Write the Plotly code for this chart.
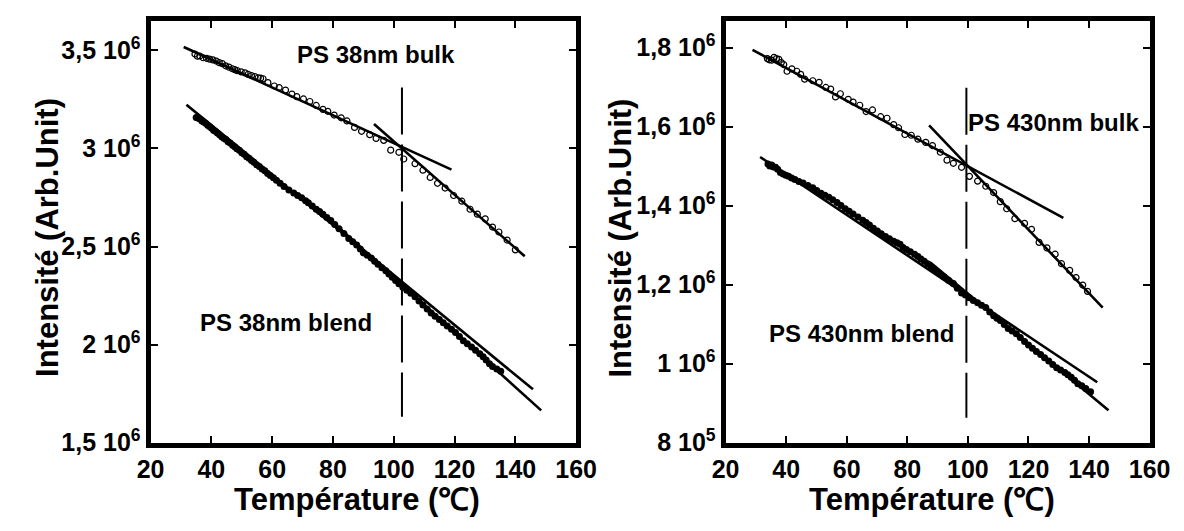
import plotly.graph_objects as go

# ---------------- Left panel : PS 38nm ----------------
bulk38_T = [34.6, 35.4, 36.2, 37.3, 38.4, 39.4, 40.5, 41.6, 42.6, 43.6, 44.7, 45.8, 46.9, 47.7, 48.5,
            49.8, 51.1, 52.1, 53.2, 54.3, 55.4, 56.2, 57.0, 58.6, 60.7, 62.3, 64.4, 66.5, 68.1, 70.3,
            72.4, 74.5, 76.7, 78.3, 80.4, 82.7, 84.6, 87.1, 89.4, 92.1, 94.2, 96.7, 99.0, 101.7,
            103.3, 107.0, 109.6, 112.0, 114.4, 116.9, 119.7, 122.4, 125.1, 127.5, 130.1, 132.5,
            134.6, 137.3, 140.0]
bulk38_I = [3.481, 3.470, 3.471, 3.462, 3.459, 3.455, 3.451, 3.445, 3.437, 3.432, 3.421, 3.414, 3.406,
            3.401, 3.396, 3.390, 3.385, 3.377, 3.371, 3.366, 3.360, 3.358, 3.355, 3.335, 3.318,
            3.310, 3.297, 3.277, 3.264, 3.252, 3.239, 3.219, 3.199, 3.189, 3.170, 3.156, 3.140,
            3.107, 3.087, 3.070, 3.051, 3.041, 2.991, 2.980, 2.946, 2.922, 2.889, 2.852, 2.822,
            2.798, 2.760, 2.731, 2.690, 2.665, 2.641, 2.599, 2.574, 2.533, 2.483]

blend38_T = [35.0, 35.6, 36.2, 36.9, 37.5, 38.1, 38.8, 39.4, 40.0, 40.7, 41.3, 42.0, 42.7, 43.4, 44.1,
             44.8, 45.5, 46.2, 47.0, 47.7, 48.4, 49.2, 50.0, 50.8, 51.6, 52.4, 53.2, 54.0, 54.9,
             55.8, 56.7, 57.6, 58.5, 59.4, 60.4, 61.4, 62.6, 63.9, 65.5, 67.1, 68.4, 69.7, 71.0,
             71.9, 73.2, 74.5, 75.6, 76.7, 78.0, 79.3, 80.6, 82.0, 83.6, 85.2, 86.5, 87.8, 89.0,
             90.0, 91.3, 92.6, 93.7, 94.8, 96.1, 97.4, 98.4, 99.5, 100.6, 101.7, 103.0, 104.3,
             105.6, 107.0, 108.3, 109.6, 111.0, 112.3, 113.6, 115.0, 116.3, 117.6, 119.0, 120.3,
             121.6, 122.9, 124.2, 125.6, 126.9, 128.3, 129.4, 130.4, 131.5, 132.5, 133.9, 135.2]
blend38_I = [3.158, 3.155, 3.150, 3.140, 3.134, 3.128, 3.118, 3.112, 3.104, 3.093, 3.088, 3.078, 3.070,
             3.060, 3.052, 3.045, 3.034, 3.028, 3.016, 3.009, 2.998, 2.990, 2.978, 2.970, 2.958,
             2.950, 2.938, 2.930, 2.917, 2.908, 2.895, 2.886, 2.872, 2.862, 2.850, 2.838, 2.822,
             2.806, 2.788, 2.773, 2.760, 2.748, 2.733, 2.723, 2.706, 2.690, 2.678, 2.665, 2.648,
             2.632, 2.612, 2.591, 2.566, 2.541, 2.524, 2.508, 2.487, 2.467, 2.455, 2.442, 2.425,
             2.409, 2.392, 2.376, 2.360, 2.343, 2.327, 2.310, 2.292, 2.277, 2.262, 2.244, 2.222,
             2.202, 2.182, 2.161, 2.145, 2.128, 2.112, 2.095, 2.078, 2.062, 2.041, 2.020, 2.004,
             1.988, 1.971, 1.954, 1.938, 1.921, 1.903, 1.888, 1.876, 1.864]

fit38_bulk_low_T, fit38_bulk_low_I = [30.9, 119.0], [3.517, 2.892]
fit38_bulk_high_T, fit38_bulk_high_I = [93.5, 143.1], [3.124, 2.450]
fit38_blend_low_T, fit38_blend_low_I = [31.8, 145.8], [3.223, 1.772]
fit38_blend_high_T, fit38_blend_high_I = [76.7, 148.5], [2.670, 1.665]
tg38_T, tg38_I = [102.7, 102.7], [3.310, 1.632]

# ---------------- Right panel : PS 430nm ----------------
bulk430_T = [33.8, 34.4, 35.2, 36.0, 36.8, 37.6, 38.4, 39.2, 40.3, 41.9, 43.5, 44.8, 46.1, 48.8, 50.9,
             53.1, 54.7, 56.3, 57.9, 60.5, 62.1, 64.3, 66.4, 68.5, 71.2, 73.3, 75.5, 77.1, 79.2,
             81.3, 83.5, 86.1, 88.3, 90.9, 93.1, 95.2, 97.9, 100.5, 103.2, 105.9, 108.5, 110.7,
             112.8, 115.5, 118.7, 121.0, 123.5, 126.1, 128.8, 130.9, 133.6, 135.7, 137.9, 139.5]
bulk430_I = [1.772, 1.769, 1.768, 1.775, 1.772, 1.770, 1.762, 1.757, 1.740, 1.746, 1.740, 1.732, 1.720,
             1.716, 1.712, 1.699, 1.695, 1.675, 1.683, 1.669, 1.662, 1.654, 1.638, 1.642, 1.625,
             1.621, 1.605, 1.597, 1.580, 1.578, 1.568, 1.560, 1.552, 1.535, 1.515, 1.507, 1.497,
             1.474, 1.462, 1.449, 1.433, 1.410, 1.392, 1.367, 1.355, 1.340, 1.307, 1.293, 1.277,
             1.253, 1.236, 1.218, 1.199, 1.183]

blend430_T = [34.0, 34.6, 35.2, 35.8, 36.5, 37.2, 38.1, 39.0, 39.9, 40.8, 41.8, 42.9, 44.2, 45.6, 47.2,
              48.8, 50.1, 51.5, 52.8, 54.1, 55.4, 56.8, 58.1, 59.5, 60.8, 62.1, 63.7, 65.3, 66.4,
              67.5, 68.8, 70.1, 71.4, 72.8, 74.1, 75.5, 76.6, 77.6, 78.6, 79.7, 81.0, 82.4, 83.5,
              84.5, 85.6, 86.7, 88.0, 89.3, 90.6, 92.0, 93.6, 95.2, 96.5, 97.9, 99.2, 100.5, 101.8,
              103.2, 104.5, 105.9, 107.2, 108.5, 109.6, 110.7, 112.0, 113.3, 114.6, 116.0, 117.3,
              118.7, 120.0, 121.3, 122.6, 124.0, 125.3, 126.7, 128.0, 129.3, 130.6, 132.0, 133.0,
              134.1, 135.2, 136.3, 137.6, 138.9, 140.5]
blend430_I = [1.505, 1.500, 1.503, 1.498, 1.497, 1.492, 1.484, 1.480, 1.477, 1.474, 1.470, 1.466, 1.461,
              1.457, 1.451, 1.445, 1.438, 1.431, 1.426, 1.421, 1.415, 1.408, 1.400, 1.392, 1.386,
              1.379, 1.371, 1.363, 1.357, 1.351, 1.343, 1.336, 1.329, 1.322, 1.316, 1.310, 1.306,
              1.302, 1.294, 1.289, 1.283, 1.277, 1.271, 1.265, 1.259, 1.253, 1.244, 1.236, 1.228,
              1.220, 1.211, 1.203, 1.191, 1.179, 1.174, 1.167, 1.160, 1.154, 1.148, 1.142, 1.131,
              1.121, 1.115, 1.109, 1.099, 1.089, 1.083, 1.076, 1.066, 1.056, 1.047, 1.039, 1.031,
              1.023, 1.015, 1.007, 0.998, 0.990, 0.984, 0.978, 0.972, 0.966, 0.958, 0.949, 0.944,
              0.937, 0.929]

fit430_bulk_low_T, fit430_bulk_low_I = [28.9, 131.5], [1.794, 1.369]
fit430_bulk_high_T, fit430_bulk_high_I = [87.2, 144.5], [1.603, 1.142]
fit430_blend_low_T, fit430_blend_low_I = [31.4, 142.7], [1.523, 0.953]
fit430_blend_high_T, fit430_blend_high_I = [87.5, 146.4], [1.257, 0.882]
tg430_T, tg430_I = [99.5, 99.5], [1.698, 0.863]

# ---------------- Axis ticks ----------------
x_ticks = [20, 40, 60, 80, 100, 120, 140, 160]
left_yticks = [1.5, 2.0, 2.5, 3.0, 3.5]
left_ylabels = ["1,5 10<sup>6</sup>", "2 10<sup>6</sup>", "2,5 10<sup>6</sup>",
                "3 10<sup>6</sup>", "3,5 10<sup>6</sup>"]
right_yticks = [0.8, 1.0, 1.2, 1.4, 1.6, 1.8]
right_ylabels = ["8 10<sup>5</sup>", "1 10<sup>6</sup>", "1,2 10<sup>6</sup>",
                 "1,4 10<sup>6</sup>", "1,6 10<sup>6</sup>", "1,8 10<sup>6</sup>"]

FONT = "Liberation Sans, Arial, sans-serif"
W, H = 1184, 531

fig = go.Figure()

def add_panel(xa, ya, bulkT, bulkI, blendT, blendI, fits, tg):
    fig.add_trace(go.Scatter(x=bulkT, y=bulkI, mode="markers", xaxis=xa, yaxis=ya,
                             marker=dict(symbol="circle-open", size=6, color="black",
                                         line=dict(width=1.2, color="black"))))
    fig.add_trace(go.Scatter(x=blendT, y=blendI, mode="markers", xaxis=xa, yaxis=ya,
                             marker=dict(symbol="circle", size=7, color="black")))
    for fx, fy in fits:
        fig.add_trace(go.Scatter(x=fx, y=fy, mode="lines", xaxis=xa, yaxis=ya,
                                 line=dict(color="black", width=2.6)))
    fig.add_trace(go.Scatter(x=tg[0], y=tg[1], mode="lines", xaxis=xa, yaxis=ya,
                             line=dict(color="black", width=2, dash="47px,10px")))

add_panel("x", "y", bulk38_T, bulk38_I, blend38_T, blend38_I,
          [(fit38_bulk_low_T, fit38_bulk_low_I), (fit38_bulk_high_T, fit38_bulk_high_I),
           (fit38_blend_low_T, fit38_blend_low_I), (fit38_blend_high_T, fit38_blend_high_I)],
          (tg38_T, tg38_I))
add_panel("x2", "y2", bulk430_T, bulk430_I, blend430_T, blend430_I,
          [(fit430_bulk_low_T, fit430_bulk_low_I), (fit430_bulk_high_T, fit430_bulk_high_I),
           (fit430_blend_low_T, fit430_blend_low_I), (fit430_blend_high_T, fit430_blend_high_I)],
          (tg430_T, tg430_I))

tickfont = dict(family=FONT, size=25, color="black", weight="bold")
common = dict(showgrid=False, zeroline=False, showline=True, linecolor="black", linewidth=5,
              mirror="allticks", ticks="inside", ticklen=7, tickwidth=1.5, tickcolor="black",
              tickfont=tickfont)

ydom = [(531 - 446.5) / H, (531 - 13) / H]
fig.update_layout(
    width=W, height=H, margin=dict(l=0, r=0, t=0, b=0),
    paper_bgcolor="white", plot_bgcolor="white", showlegend=False,
    xaxis=dict(domain=[132.5 / W, 571 / W], range=[20, 160], tickvals=x_ticks, anchor="y", **common),
    yaxis=dict(domain=ydom, range=[1.5, 3.651], tickvals=left_yticks, ticktext=left_ylabels,
               anchor="x", **common),
    xaxis2=dict(domain=[725 / W, 1162 / W], range=[20, 160], tickvals=x_ticks, anchor="y2", **common),
    yaxis2=dict(domain=ydom, range=[0.8, 1.868], tickvals=right_yticks, ticktext=right_ylabels,
                anchor="x2", **common),
)

ann_font = dict(family=FONT, size=24, color="black", weight="bold")
title_font = dict(family=FONT, size=31, color="black", weight="bold")
annotations = [
    dict(text="PS 38nm bulk", x=365 / W, y=1 - 48 / H, font=ann_font),
    dict(text="PS 38nm blend", x=272 / W, y=1 - 323 / H, font=ann_font),
    dict(text="PS 430nm bulk", x=1063 / W, y=1 - 118 / H, font=ann_font),
    dict(text="PS 430nm blend", x=865 / W, y=1 - 334 / H, font=ann_font),
    dict(text="Température (℃)", x=345 / W, y=1 - 505 / H, font=title_font),
    dict(text="Température (℃)", x=938 / W, y=1 - 505 / H, font=title_font),
    dict(text="Intensité (Arb.Unit)", x=27 / W, y=1 - 236 / H, font=title_font, textangle=-90),
    dict(text="Intensité (Arb.Unit)", x=617 / W, y=1 - 236 / H, font=title_font, textangle=-90),
]
for a in annotations:
    a.update(xref="paper", yref="paper", showarrow=False, xanchor="center", yanchor="middle")
fig.update_layout(annotations=annotations)

fig.write_html("out.html")
